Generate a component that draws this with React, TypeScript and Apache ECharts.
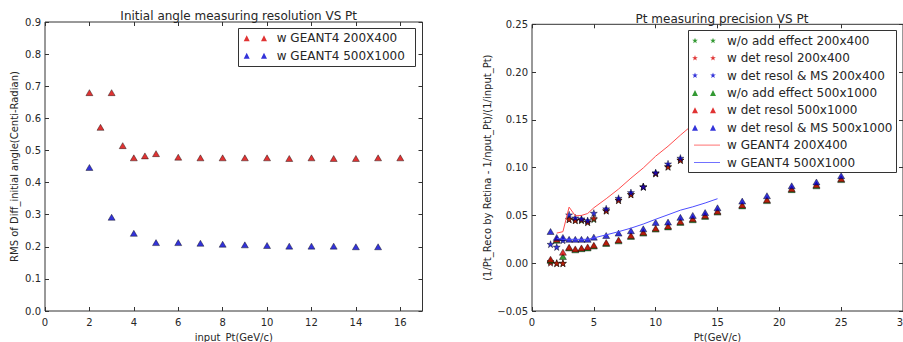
import { useEffect, useRef } from 'react';
import * as echarts from 'echarts';

const FONT = 'DejaVu Sans';
const TXT = '#262626';
const AX = '#333333';

// ---------- Left chart data ----------
const leftRedX = [2, 2.5, 3, 3.5, 4, 4.5, 5, 6, 7, 8, 9, 10, 11, 12, 13, 14, 15, 16];
const leftRedY = [0.68, 0.572, 0.68, 0.515, 0.477, 0.483, 0.49, 0.479, 0.477, 0.477, 0.477, 0.477, 0.475, 0.477, 0.475, 0.475, 0.477, 0.477];
const leftBlueX = [2, 3, 4, 5, 6, 7, 8, 9, 10, 11, 12, 13, 14, 15];
const leftBlueY = [0.447, 0.292, 0.242, 0.213, 0.213, 0.211, 0.208, 0.206, 0.204, 0.202, 0.202, 0.202, 0.2, 0.2];

// ---------- Right chart data ----------
const starX = [1.5, 2, 2.5, 3, 3.5, 4, 4.5, 5, 6, 7, 8, 9, 10, 11, 12, 13, 14, 15];
const greenStar = [0.002, 0, 0, 0.046, 0.045, 0.045, 0.043, 0.046, 0.055, 0.066, 0.072, 0.08, 0.094, 0.101, 0.108, 0.117, 0.126, 0.136];
const redStar = [0.0005, 0, 0, 0.046, 0.045, 0.0454, 0.043, 0.047, 0.055, 0.066, 0.072, 0.08, 0.094, 0.101, 0.108, 0.117, 0.126, 0.136];
const blueStar = [0.0199, 0.017, 0.024, 0.0507, 0.0475, 0.0465, 0.0447, 0.0524, 0.057, 0.068, 0.074, 0.08, 0.0948, 0.104, 0.11, 0.119, 0.128, 0.138];

const triX = [1.5, 2, 2.5, 3, 3.5, 4, 4.5, 5, 6, 7, 8, 9, 10, 11, 12, 13, 14, 15, 17, 19, 21, 23, 25];
const greenTri = [0.003, 0.024, 0.007, 0.016, 0.014, 0.0152, 0.016, 0.018, 0.0206, 0.0234, 0.028, 0.0315, 0.0357, 0.038, 0.0427, 0.0455, 0.049, 0.0535, 0.06, 0.0655, 0.077, 0.081, 0.0875];
const redTri = [0.0042, 0.025, 0.0115, 0.0168, 0.015, 0.016, 0.017, 0.0189, 0.0216, 0.0244, 0.029, 0.0325, 0.0367, 0.039, 0.0437, 0.0465, 0.05, 0.0545, 0.061, 0.0665, 0.078, 0.082, 0.0885];
const blueTri = [0.0332, 0.027, 0.027, 0.025, 0.025, 0.025, 0.025, 0.0273, 0.029, 0.0315, 0.034, 0.036, 0.0427, 0.043, 0.048, 0.05, 0.053, 0.058, 0.065, 0.0706, 0.081, 0.085, 0.0916];

const lineX = [2, 2.5, 3, 3.5, 4, 4.5, 5, 6, 7, 8, 9, 10, 11, 12, 13, 14, 15];
const redLine = [0.0315, 0.033, 0.0587, 0.0496, 0.05, 0.052, 0.058, 0.0675, 0.0776, 0.089, 0.0997, 0.112, 0.1224, 0.134, 0.145, 0.156, 0.167];
const blueLine = [0.026, 0.025, 0.025, 0.025, 0.025, 0.025, 0.0265, 0.0297, 0.033, 0.0367, 0.041, 0.046, 0.0507, 0.0555, 0.059, 0.063, 0.0675];

const N_G4_200 = 'w GEANT4 200X400';
const N_G4_500 = 'w GEANT4 500X1000';
const N_S1 = 'w/o add effect 200x400';
const N_S2 = 'w det resol 200x400';
const N_S3 = 'w det resol & MS 200x400';
const N_T1 = 'w/o add effect 500x1000';
const N_T2 = 'w det resol 500x1000';
const N_T3 = 'w det resol & MS 500x1000';

const GREEN = '#008000';
const RED = '#d80000';
const BLUE = '#0000d0';
const LRED = '#ff4d4d';
const LBLUE = '#4d4dff';

const zip = (xs: number[], ys: number[]) => xs.map((x, i) => [x, ys[i]]);

function star(cx: number, cy: number, r: number): string {
  const pts: string[] = [];
  for (let k = 0; k < 10; k++) {
    const ang = (-90 + k * 36) * Math.PI / 180;
    const rr = k % 2 === 0 ? r : r * 0.4;
    pts.push(`${(cx + rr * Math.cos(ang)).toFixed(3)},${(cy + rr * Math.sin(ang)).toFixed(3)}`);
  }
  return 'M' + pts.join(' L') + ' Z';
}
function tri(cx: number, h: number): string {
  return `M${cx - h / 2},${h} L${cx},0 L${cx + h / 2},${h} Z`;
}

const STAR_SYMBOL = 'path://' + star(50, 50, 50);
const LEG_STAR = 'path://' + star(3, 3, 3) + ' ' + star(21, 3, 3) + ' M0,0 L0,0 M30,6 L30,6';
const LEG_TRI_R = 'path://' + tri(3, 6) + ' ' + tri(21, 6) + ' M0,0 L0,0 M30,6 L30,6';
const LEG_LINE = 'path://M2,2.5 L28,2.5 L28,3.5 L2,3.5 Z M0,0 L0,0 M30,6 L30,6';
const LEG_TRI_L = 'path://' + tri(3, 6) + ' ' + tri(20.3, 6) + ' M0,0 L0,0 M28,6 L28,6';

function xAxes(gridIndex: number, min: number, max: number, interval: number, name: string, fmt: (v: number) => string) {
  const common = {
    type: 'value', gridIndex, min, max, interval,
    splitLine: { show: false },
    axisLine: { show: false, onZero: false },
    axisTick: { show: true, inside: true, length: 4, lineStyle: { color: AX, width: 1 } },
  };
  return [
    {
      ...common, position: 'bottom', name, nameLocation: 'middle', nameGap: 21,
      nameTextStyle: { fontFamily: FONT, fontSize: 10, color: TXT },
      axisLabel: { show: true, fontFamily: FONT, fontSize: 10, color: TXT, margin: 6, formatter: fmt, showMaxLabel: gridIndex === 1, hideOverlap: false },
    },
    { ...common, position: 'top', axisLabel: { show: false } },
  ];
}
function yAxes(gridIndex: number, min: number, max: number, interval: number, name: string, gap: number, fmt: (v: number) => string) {
  const common = {
    type: 'value', gridIndex, min, max, interval,
    splitLine: { show: false },
    axisLine: { show: false, onZero: false },
    axisTick: { show: true, inside: true, length: 4, lineStyle: { color: AX, width: 1 } },
  };
  return [
    {
      ...common, position: 'left', name, nameLocation: 'middle', nameGap: gap,
      nameTextStyle: { fontFamily: FONT, fontSize: 10, color: TXT },
      axisLabel: { show: true, fontFamily: FONT, fontSize: 10, color: TXT, margin: 4, formatter: fmt },
    },
    { ...common, position: 'right', axisLabel: { show: false } },
  ];
}

const markerStyle = (c: string) => ({ color: c, borderColor: '#000', borderWidth: 0.5 });

export default function App() {
  const ref = useRef<HTMLDivElement>(null);
  useEffect(() => {
    if (!ref.current) return;
    const chart = echarts.init(ref.current, undefined, { renderer: 'svg' });
    const legendText = { fontFamily: FONT, fontSize: 12, color: TXT, lineHeight: 14 };
    const option: any = {
      animation: false,
      backgroundColor: '#fff',
      title: [
        { text: 'Initial angle measuring resolution VS Pt', left: 233.7, top: 5, textAlign: 'center', textStyle: { fontFamily: FONT, fontSize: 12, fontWeight: 'normal', color: TXT } },
        { text: 'Pt measuring precision VS Pt', left: 717, top: 7.5, textAlign: 'center', textStyle: { fontFamily: FONT, fontSize: 12, fontWeight: 'normal', color: TXT } },
      ],
      grid: [
        { left: 45, top: 22, width: 377.5, height: 289, show: true, borderColor: AX, borderWidth: 1, containLabel: false, outerBoundsMode: 'none' },
        { left: 532, top: 24.3, width: 371, height: 286.7, show: true, borderColor: AX, borderWidth: 1, containLabel: false, outerBoundsMode: 'none' },
      ],
      xAxis: [
        ...xAxes(0, 0, 17, 2, 'input_Pt(GeV/c)', (v: number) => String(v)),
        ...xAxes(1, 0, 30, 5, 'Pt(GeV/c)', (v: number) => String(v)),
      ],
      yAxis: [
        ...yAxes(0, 0, 0.9, 0.1, 'RMS of Diff_initial angle(Centi-Radian)', 26, (v: number) => v.toFixed(1)),
        ...yAxes(1, -0.05, 0.25, 0.05, '(1/Pt_Reco by Retina - 1/nput_Pt)/(1/input_Pt)', 40, (v: number) => v.toFixed(2).replace('-', '\u2212')),
      ],
      graphic: [
        { type: 'rect', z: 5, zlevel: 0, shape: { x: 238.5, y: 28.5, width: 177, height: 38 }, style: { fill: '#fff', stroke: AX, lineWidth: 1 } },
        { type: 'rect', z: 5, zlevel: 0, shape: { x: 688.5, y: 30.5, width: 208, height: 142 }, style: { fill: '#fff', stroke: AX, lineWidth: 1 } },
      ],
      legend: [
        {
          orient: 'vertical', left: 243.7, top: 31.3, padding: 0, itemWidth: 28, itemHeight: 6, itemGap: 3.4, z: 10,
          selectedMode: false, textStyle: legendText,
          data: [
            { name: N_G4_200, icon: LEG_TRI_L, itemStyle: { color: RED, borderWidth: 0 } },
            { name: N_G4_500, icon: LEG_TRI_L, itemStyle: { color: BLUE, borderWidth: 0 } },
          ],
        },
        {
          orient: 'vertical', left: 692, top: 33.7, padding: 0, itemWidth: 30, itemHeight: 6, itemGap: 3.4, z: 10,
          selectedMode: false, textStyle: legendText,
          data: [
            { name: N_S1, icon: LEG_STAR, itemStyle: { color: GREEN, borderWidth: 0 } },
            { name: N_S2, icon: LEG_STAR, itemStyle: { color: RED, borderWidth: 0 } },
            { name: N_S3, icon: LEG_STAR, itemStyle: { color: BLUE, borderWidth: 0 } },
            { name: N_T1, icon: LEG_TRI_R, itemStyle: { color: GREEN, borderWidth: 0 } },
            { name: N_T2, icon: LEG_TRI_R, itemStyle: { color: RED, borderWidth: 0 } },
            { name: N_T3, icon: LEG_TRI_R, itemStyle: { color: BLUE, borderWidth: 0 } },
            { name: N_G4_200, icon: LEG_LINE, itemStyle: { color: LRED, borderWidth: 0 } },
            { name: N_G4_500, icon: LEG_LINE, itemStyle: { color: LBLUE, borderWidth: 0 } },
          ],
        },
      ],
      series: [
        { type: 'scatter', name: N_G4_200, xAxisIndex: 0, yAxisIndex: 0, symbol: 'triangle', symbolSize: [7, 6], itemStyle: markerStyle(RED), data: zip(leftRedX, leftRedY) },
        { type: 'scatter', name: N_G4_500, xAxisIndex: 0, yAxisIndex: 0, symbol: 'triangle', symbolSize: [7, 6], itemStyle: markerStyle(BLUE), data: zip(leftBlueX, leftBlueY) },

        { type: 'scatter', name: N_S1, xAxisIndex: 2, yAxisIndex: 2, symbol: STAR_SYMBOL, symbolSize: 7, itemStyle: markerStyle(GREEN), data: zip(starX, greenStar) },
        { type: 'scatter', name: N_S2, xAxisIndex: 2, yAxisIndex: 2, symbol: STAR_SYMBOL, symbolSize: 7, itemStyle: markerStyle(RED), data: zip(starX, redStar) },
        { type: 'scatter', name: N_S3, xAxisIndex: 2, yAxisIndex: 2, symbol: STAR_SYMBOL, symbolSize: 7, itemStyle: markerStyle(BLUE), data: zip(starX, blueStar) },
        { type: 'scatter', name: N_T1, xAxisIndex: 2, yAxisIndex: 2, symbol: 'triangle', symbolSize: [7, 6], itemStyle: markerStyle(GREEN), data: zip(triX, greenTri) },
        { type: 'scatter', name: N_T2, xAxisIndex: 2, yAxisIndex: 2, symbol: 'triangle', symbolSize: [7, 6], itemStyle: markerStyle(RED), data: zip(triX, redTri) },
        { type: 'scatter', name: N_T3, xAxisIndex: 2, yAxisIndex: 2, symbol: 'triangle', symbolSize: [7, 6], itemStyle: markerStyle(BLUE), data: zip(triX, blueTri) },
        { type: 'line', name: N_G4_200, xAxisIndex: 2, yAxisIndex: 2, showSymbol: false, symbol: 'none', lineStyle: { color: LRED, width: 1 }, itemStyle: { color: LRED }, data: zip(lineX, redLine) },
        { type: 'line', name: N_G4_500, xAxisIndex: 2, yAxisIndex: 2, showSymbol: false, symbol: 'none', lineStyle: { color: LBLUE, width: 1 }, itemStyle: { color: LBLUE }, data: zip(lineX, blueLine) },
      ],
    };
    chart.setOption(option);
    return () => chart.dispose();
  }, []);
  return <div ref={ref} style={{ position: 'fixed', left: 0, top: 0, width: 903, height: 342, background: '#fff' }} />;
}
